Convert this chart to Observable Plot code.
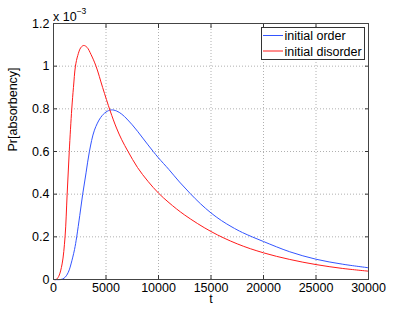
<!DOCTYPE html>
<html><head><meta charset="utf-8">
<script src="https://cdn.jsdelivr.net/npm/d3@7"></script>
<script src="https://cdn.jsdelivr.net/npm/@observablehq/plot@0.6"></script>
<style>
body{margin:0;background:#fff;}
#wrap{position:relative;width:407px;height:314px;}
svg{font-family:"Liberation Sans",Arial,sans-serif;}
</style></head><body><div id="wrap"></div>
<script>
// series: initial order (blue)
const tOrder = [0, 700, 1000, 1260, 1500, 1670, 2000, 2210, 2500, 2780, 3100, 3420, 3900, 4500, 5000, 5500, 6000, 6500, 7000, 7500, 8000, 8500, 9000, 9500, 10000, 11000, 12000, 13000, 14000, 15000, 16000, 17000, 18000, 20000, 22500, 25000, 27500, 30000];
const vOrder = [0, 0, 0.006, 0.02, 0.045, 0.073, 0.14, 0.2, 0.3, 0.4, 0.5, 0.6, 0.7, 0.76, 0.785, 0.795, 0.79, 0.775, 0.752, 0.725, 0.695, 0.663, 0.631, 0.6, 0.57, 0.515, 0.457, 0.404, 0.355, 0.312, 0.276, 0.246, 0.22, 0.178, 0.13, 0.095, 0.072, 0.055];
// series: initial disorder (red)
const tDisorder = [0, 250, 500, 820, 1100, 1300, 1500, 1740, 1900, 2090, 2310, 2600, 2880, 3200, 3570, 4050, 4680, 5400, 6000, 6500, 7100, 8000, 9000, 10000, 11000, 12500, 15000, 17500, 20000, 22500, 25000, 27500, 30000];
const vDisorder = [0, 0, 0.015, 0.073, 0.2, 0.4, 0.6, 0.8, 0.9, 1.0, 1.05, 1.087, 1.097, 1.088, 1.055, 1.0, 0.9, 0.79, 0.71, 0.655, 0.6, 0.525, 0.46, 0.405, 0.36, 0.302, 0.225, 0.167, 0.125, 0.094, 0.07, 0.052, 0.039];

const seriesNames = ["initial order", "initial disorder"];
const seriesColors = ["#3355ff", "#ff1a1a"];
const xTicks = [0, 5000, 10000, 15000, 20000, 25000, 30000];
const yTicks = [0, 0.2, 0.4, 0.6, 0.8, 1.0, 1.2];
const yTickLabels = ["0", "0.2", "0.4", "0.6", "0.8", "1", "1.2"];
const xLabel = "t";
const yLabel = "Pr[absorbency]";
const multiplierBase = "x 10";
const multiplierExp = "\u22123";

const rows = [
  ...tOrder.map((t, i) => ({t, v: vOrder[i], s: seriesNames[0]})),
  ...tDisorder.map((t, i) => ({t, v: vDisorder[i], s: seriesNames[1]}))
];

const fs = 12.5;
const chart = Plot.plot({
  width: 407, height: 314,
  marginLeft: 53, marginRight: 39, marginTop: 23, marginBottom: 35,
  style: {fontFamily: "'Liberation Sans', Arial, sans-serif", fontSize: fs + "px", background: "#fff", color: "#000"},
  x: {domain: [0, 30000]},
  y: {domain: [0, 1.2]},
  color: {domain: seriesNames, range: seriesColors},
  marks: [
    Plot.gridX(xTicks, {stroke: "#b0b0b0", strokeOpacity: 1, strokeDasharray: "1,2"}),
    Plot.gridY(yTicks, {stroke: "#b0b0b0", strokeOpacity: 1, strokeDasharray: "1,2"}),
    Plot.line(rows, {x: "t", y: "v", z: "s", stroke: "s", strokeWidth: 1, curve: "catmull-rom"}),
    Plot.axisX(xTicks, {anchor: "bottom", tickSize: -4, tickPadding: 8, tickFormat: d => String(d), label: null, stroke: "#333"}),
    Plot.axisX(xTicks, {anchor: "top", tickSize: -4, tickFormat: () => "", label: null, stroke: "#333"}),
    Plot.axisY(yTicks, {anchor: "left", tickSize: -4, tickPadding: 8, tickFormat: d => yTickLabels[yTicks.indexOf(d)], label: null, stroke: "#333"}),
    Plot.axisY(yTicks, {anchor: "right", tickSize: -4, tickFormat: () => "", label: null, stroke: "#333"}),
    Plot.frame({stroke: "#444"}),
    Plot.text([xLabel], {frameAnchor: "bottom", dy: 23, fontSize: fs}),
    Plot.text([yLabel], {frameAnchor: "left", dx: -41, rotate: -90, fontSize: fs})
  ]
});
document.getElementById("wrap").appendChild(chart);

const svg = d3.select(chart);
// multiplier
const mt = svg.append("text").attr("x", 53).attr("y", 21).attr("font-size", fs)
  .attr("fill", "#000").attr("text-anchor", "start");
mt.append("tspan").text(multiplierBase);
mt.append("tspan").attr("dy", -7).attr("font-size", 8.5).text(multiplierExp);

// legend
const lg = svg.append("g").attr("text-anchor", "start");
lg.append("rect").attr("x", 261.5).attr("y", 27.5).attr("width", 103).attr("height", 32)
  .attr("fill", "#fff").attr("stroke", "#333");
seriesNames.forEach((name, i) => {
  const y = 35.5 + i * 15.5;
  lg.append("line").attr("x1", 263).attr("x2", 283).attr("y1", y).attr("y2", y)
    .attr("stroke", seriesColors[i]).attr("stroke-width", 1);
  lg.append("text").attr("x", 284.5).attr("y", y + 4.5).attr("font-size", fs)
    .attr("fill", "#000").attr("text-anchor", "start").text(name);
});
</script></body></html>
